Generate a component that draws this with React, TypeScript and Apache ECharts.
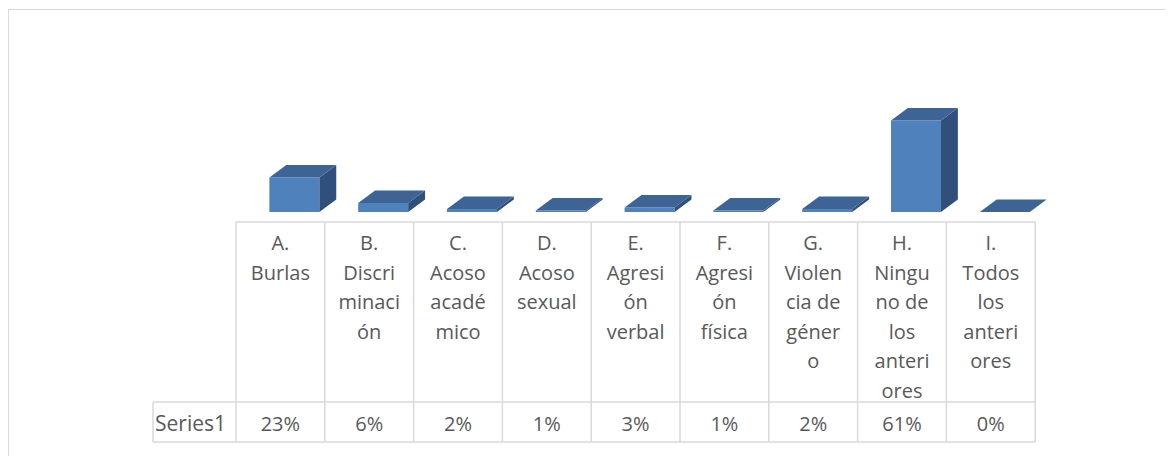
import React, { useEffect, useRef } from "react";
import * as echarts from "echarts";

const categories = [
  "A.\nBurlas",
  "B.\nDiscri\nminaci\nón",
  "C.\nAcoso\nacadé\nmico",
  "D.\nAcoso\nsexual",
  "E.\nAgresi\nón\nverbal",
  "F.\nAgresi\nón\nfísica",
  "G.\nViolen\ncia de\ngéner\no",
  "H.\nNingu\nno de\nlos\nanteri\nores",
  "I.\nTodos\nlos\nanteri\nores",
];
const values = [23, 6, 2, 1, 3, 1, 2, 61, 0];
const valueLabels = ["23%", "6%", "2%", "1%", "3%", "1%", "2%", "61%", "0%"];
const seriesName = "Series1";

const FONT = "'Open Sans', 'Noto Sans', sans-serif";
const TEXT_COLOR = "#595959";
const LINE_COLOR = "#d9d9d9";

export default function App() {
  const ref = useRef<HTMLDivElement>(null);
  useEffect(() => {
    if (!ref.current) return;
    const chart = echarts.init(ref.current, undefined, { renderer: "svg" });
    const data = values.map((v, i) => [i, v]);
    chart.setOption({
      animation: false,
      backgroundColor: "#ffffff",
      grid: { left: 228, width: 799.2, top: 54, bottom: 244 },
      xAxis: {
        type: "category",
        data: categories,
        show: false,
      },
      yAxis: { type: "value", min: 0, max: 100, show: false },
      graphic: [
        {
          type: "line",
          shape: { x1: 0, y1: 1.5, x2: 1165, y2: 1.5 },
          style: { stroke: LINE_COLOR, lineWidth: 1 },
          silent: true,
        },
        {
          type: "line",
          shape: { x1: 0.5, y1: 1.5, x2: 0.5, y2: 448 },
          style: { stroke: LINE_COLOR, lineWidth: 1 },
          silent: true,
        },
      ],
      series: [
        {
          type: "custom",
          name: seriesName,
          data,
          clip: false,
          renderItem: (params: any, api: any) => {
            const i = api.value(0);
            const v = api.value(1);
            const base = api.coord([i, 0]);
            const top = api.coord([i, v]);
            const band = api.size([1, 0])[0];
            const w = band * 0.563;
            const x0 = base[0] - band * 0.124;
            const dx = band * 0.19;
            const dy = 12.5;
            const yT = top[1];
            const yB = base[1];
            return {
              type: "group",
              children: [
                {
                  type: "rect",
                  shape: { x: x0, y: yT, width: w, height: yB - yT },
                  style: { fill: "#4f81bd" },
                },
                {
                  type: "polygon",
                  shape: {
                    points: [
                      [x0 + w, yT],
                      [x0 + w + dx, yT - dy],
                      [x0 + w + dx, yB - dy],
                      [x0 + w, yB],
                    ],
                  },
                  style: { fill: "#30507b" },
                },
                {
                  type: "polygon",
                  shape: {
                    points: [
                      [x0, yT],
                      [x0 + w, yT],
                      [x0 + w + dx, yT - dy],
                      [x0 + dx, yT - dy],
                    ],
                  },
                  style: { fill: "#3d6494" },
                },
              ],
            };
          },
        },
        {
          type: "custom",
          name: "table",
          data,
          clip: false,
          silent: true,
          renderItem: (params: any, api: any) => {
            const i = api.value(0);
            const base = api.coord([i, 0]);
            const band = api.size([1, 0])[0];
            const cx = base[0];
            const xl = cx - band / 2;
            const xr = cx + band / 2;
            const yTop = base[1] + 10;
            const yMid = base[1] + 190;
            const yBot = base[1] + 230;
            const ls = { stroke: LINE_COLOR, lineWidth: 1.5 };
            const children: any[] = [
              { type: "line", shape: { x1: xl, y1: yTop, x2: xr, y2: yTop }, style: ls },
              { type: "line", shape: { x1: xl, y1: yMid, x2: xr, y2: yMid }, style: ls },
              { type: "line", shape: { x1: xl, y1: yBot, x2: xr, y2: yBot }, style: ls },
              { type: "line", shape: { x1: xr, y1: yTop, x2: xr, y2: yBot }, style: ls },
              {
                type: "text",
                style: {
                  text: categories[i],
                  x: cx,
                  y: yTop + 6,
                  align: "center",
                  verticalAlign: "top",
                  font: `20px ${FONT}`,
                  lineHeight: 29.5,
                  fill: TEXT_COLOR,
                },
              },
              {
                type: "text",
                style: {
                  text: valueLabels[i],
                  x: cx,
                  y: (yMid + yBot) / 2 + 1,
                  align: "center",
                  verticalAlign: "middle",
                  font: `20px ${FONT}`,
                  fill: TEXT_COLOR,
                },
              },
            ];
            if (i === 0) {
              const hl = xl - 83;
              children.push(
                { type: "line", shape: { x1: xl, y1: yTop, x2: xl, y2: yBot }, style: ls },
                { type: "line", shape: { x1: hl, y1: yMid, x2: xl, y2: yMid }, style: ls },
                { type: "line", shape: { x1: hl, y1: yBot, x2: xl, y2: yBot }, style: ls },
                { type: "line", shape: { x1: hl, y1: yMid, x2: hl, y2: yBot }, style: ls },
                {
                  type: "text",
                  style: {
                    text: seriesName,
                    x: hl + 2,
                    y: (yMid + yBot) / 2 + 1,
                    align: "left",
                    verticalAlign: "middle",
                    font: `21px ${FONT}`,
                    fill: TEXT_COLOR,
                  },
                }
              );
            }
            return { type: "group", children };
          },
        },
      ],
    });
    return () => chart.dispose();
  }, []);
  return <div ref={ref} style={{ width: 1165, height: 448 }} />;
}
